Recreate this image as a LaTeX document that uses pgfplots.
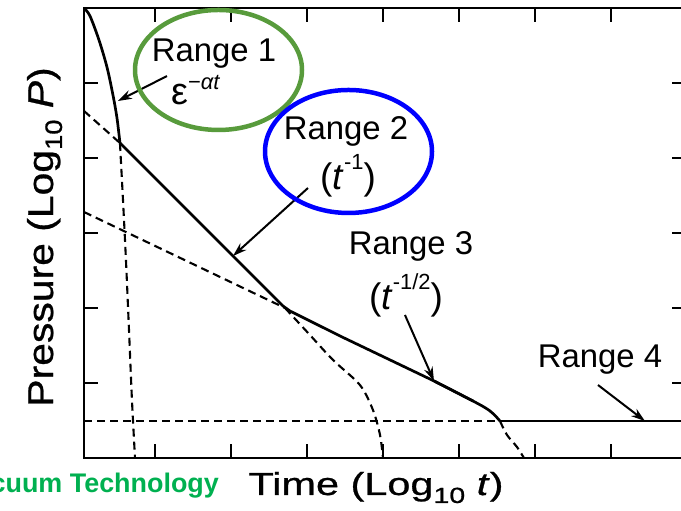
\documentclass[border=0pt]{standalone}
\usepackage{fontspec}
\setmainfont{Liberation Sans}
\newfontfamily\titlefont{Liberation Sans}[FakeBold=0.7]
\usepackage{pgfplots}
\pgfplotsset{compat=1.18}
\usetikzlibrary{arrows.meta}
\definecolor{rangegreen}{RGB}{88,155,60}
\definecolor{rangeblue}{RGB}{0,0,255}
\definecolor{logogreen}{RGB}{0,176,80}

\begin{document}
\begin{tikzpicture}[x=1bp,y=1bp]
\useasboundingbox (0,0) rectangle (681,511);
\clip (0,0) rectangle (681,511);
\begin{axis}[
  at={(84bp,53bp)}, anchor=south west,
  scale only axis, width=602bp, height=450bp,
  xmin=-0.934, xmax=6.987, ymin=0, ymax=6,
  xtick={0,...,6}, ytick={1,...,5},
  xticklabels={}, yticklabels={},
  tick align=inside, major tick length=14bp,
  axis line style={line width=2.8bp},
  tick style={black, line width=2.2bp},
  clip=false,
]
% overall pump-down curve
\addplot[black, line width=2.7bp, smooth, tension=0.5] coordinates {
  (-0.934,6.000) (-0.855,5.893) (-0.737,5.573) (-0.632,5.213)
  (-0.553,4.840) (-0.500,4.533) (-0.461,4.200)};
\addplot[black, line width=2.7bp] coordinates {
  (-0.461,4.200) (1.684,2.027) (1.776,1.960) (2.434,1.627) (3.671,1.027) (4.184,0.760)};
\addplot[black, line width=2.7bp, smooth, tension=0.6] coordinates {
  (3.671,1.027) (4.184,0.760) (4.408,0.627) (4.539,0.493)};
\addplot[black, line width=2.7bp] coordinates {(4.539,0.493) (6.987,0.493)};
% extrapolated components
\addplot[black, line width=2.1bp, dash pattern=on 8bp off 5bp, smooth] coordinates {
  (-0.461,4.200) (-0.421,3.440) (-0.382,2.640) (-0.342,1.707) (-0.303,0.773) (-0.263,0.000)};
\addplot[black, line width=2.1bp, dash pattern=on 8bp off 5bp] coordinates {
  (-0.934,4.627) (-0.461,4.200)};
\addplot[black, line width=2.1bp, dash pattern=on 8bp off 5bp, smooth] coordinates {
  (1.711,2.000) (2.039,1.640) (2.342,1.307) (2.697,0.973) (2.868,0.640) (2.961,0.307) (3.000,0.000)};
\addplot[black, line width=2.1bp, dash pattern=on 8bp off 5bp] coordinates {
  (-0.934,3.280) (1.711,2.000)};
\addplot[black, line width=2.1bp, dash pattern=on 8bp off 5bp, smooth] coordinates {
  (4.539,0.493) (4.632,0.307) (4.763,0.147) (4.855,0.000)};
\addplot[black, line width=2.1bp, dash pattern=on 8bp off 5bp] coordinates {
  (-0.934,0.493) (4.539,0.493)};
% pointers to each range
\draw[line width=2bp, -{Stealth[length=14bp,width=9bp]}] (axis cs:0.158,5.093) -- (axis cs:-0.487,4.760);
\draw[line width=2bp, -{Stealth[length=14bp,width=9bp]}] (axis cs:2.013,3.600) -- (axis cs:1.026,2.693);
\draw[line width=2bp, -{Stealth[length=14bp,width=9bp]}] (axis cs:3.289,1.907) -- (axis cs:3.671,1.027);
\draw[line width=2bp, -{Stealth[length=14bp,width=9bp]}] (axis cs:5.829,0.973) -- (axis cs:6.447,0.493);
\end{axis}
\begin{scope}[yshift=511bp, y=-1bp]
  % axis titles
  \node[anchor=base, font=\titlefont\fontsize{32}{38}\selectfont, xscale=1.3] at (376,495)
    {Time (Log\raisebox{-0.25em}{\fontsize{22}{26}\selectfont 10} \textit{t})};
  \node[anchor=base, rotate=90, xscale=1.14, font=\titlefont\fontsize{36}{42}\selectfont] at (53,237)
    {Pressure (Log\raisebox{-0.25em}{\fontsize{24}{28}\selectfont 10} \textit{P})};
  % range labels
  \node[anchor=base, font=\fontsize{33}{40}\selectfont] at (214,62) {Range 1};
  \node[anchor=base west, font=\fontsize{38}{44}\selectfont, inner sep=0pt] at (171,105)
    {ε\raisebox{15bp}{\fontsize{22}{26}\selectfont −\textit{αt}}};
  \node[anchor=base, font=\fontsize{33}{40}\selectfont] at (346,140) {Range 2};
  \node[anchor=base, font=\fontsize{37}{44}\selectfont] at (348,190)
    {(\textit{t}\raisebox{0.55em}{\fontsize{22}{26}\selectfont -1})};
  \node[anchor=base, font=\fontsize{33}{40}\selectfont] at (411,255) {Range 3};
  \node[anchor=base, font=\fontsize{37}{44}\selectfont] at (406,310)
    {(\textit{t}\raisebox{0.55em}{\fontsize{22}{26}\selectfont -1/2})};
  \node[anchor=base, font=\fontsize{33}{40}\selectfont] at (600,368) {Range 4};
  % highlight rings
  \draw[rangegreen, line width=4.5bp] (218.5,70) ellipse [x radius=83.5, y radius=60];
  \draw[rangeblue, line width=4.5bp] (348.5,151.5) ellipse [x radius=83.5, y radius=61.5];
  % caption fragment
  \node[anchor=base east, font=\bfseries\fontsize{27}{32}\selectfont, text=logogreen, inner sep=0pt] at (219,493)
    {cuum Technology};
\end{scope}
\end{tikzpicture}
\end{document}
